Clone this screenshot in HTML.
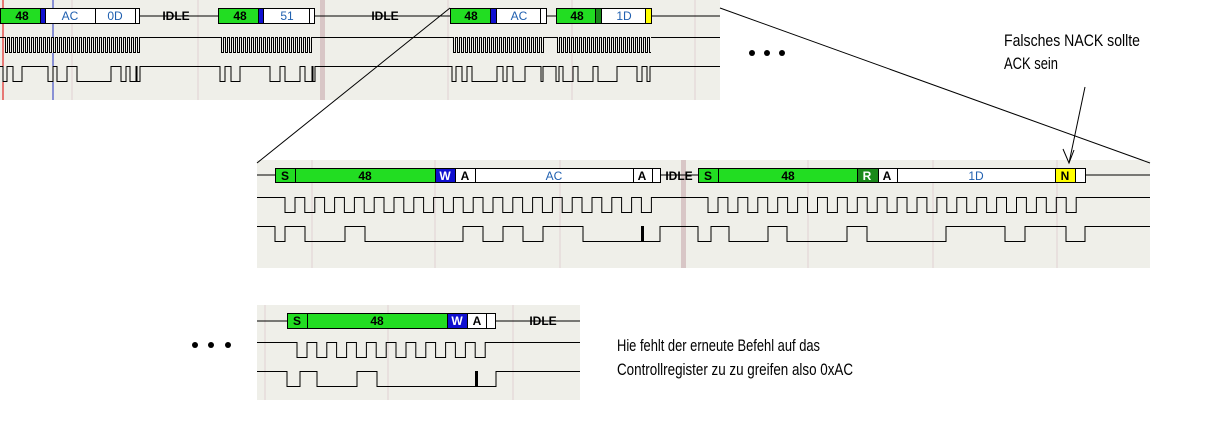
<!DOCTYPE html>
<html><head><meta charset="utf-8"><style>
html,body{margin:0;padding:0;background:#fff;width:1213px;height:446px;overflow:hidden}
svg{display:block}
.b{font-family:"Liberation Sans",sans-serif;font-size:12px;font-weight:bold;text-anchor:middle}
.t{font-family:"Liberation Sans",sans-serif;font-size:17px;fill:#000}
</style></head><body>
<svg width="1213" height="446" viewBox="0 0 1213 446" xmlns="http://www.w3.org/2000/svg">
<defs>
<pattern id="clk" width="4" height="20" patternUnits="userSpaceOnUse" x="0" y="37">
<rect x="0" y="0" width="2" height="1" fill="#000"/>
<rect x="1" y="0" width="1" height="16" fill="#000"/>
<rect x="1" y="15" width="3" height="1" fill="#000"/>
<rect x="3" y="0" width="1" height="16" fill="#000"/>
</pattern>
</defs>
<rect x="0" y="0" width="720" height="100" fill="#efefe9"/>
<rect x="257" y="160" width="893" height="108" fill="#efefe9"/>
<rect x="257" y="305" width="323" height="95" fill="#efefe9"/>
<g stroke="#e0d2d2" stroke-width="1">
<line x1="72" y1="0" x2="72" y2="100"/><line x1="198" y1="0" x2="198" y2="100"/><line x1="448" y1="0" x2="448" y2="100"/><line x1="572" y1="0" x2="572" y2="100"/><line x1="695" y1="0" x2="695" y2="100"/>
<line x1="312" y1="160" x2="312" y2="268"/><line x1="435" y1="160" x2="435" y2="268"/><line x1="560" y1="160" x2="560" y2="268"/><line x1="808" y1="160" x2="808" y2="268"/><line x1="933" y1="160" x2="933" y2="268"/><line x1="1057" y1="160" x2="1057" y2="268"/>
<line x1="265" y1="305" x2="265" y2="400"/><line x1="388" y1="305" x2="388" y2="400"/><line x1="513" y1="305" x2="513" y2="400"/>
</g>
<rect x="320" y="0" width="5" height="100" fill="#d8c6c6"/>
<rect x="681" y="160" width="5" height="108" fill="#d8c6c6"/>
<line x1="3" y1="0" x2="3" y2="100" stroke="#d00" stroke-width="1"/>
<line x1="53" y1="0" x2="53" y2="100" stroke="#2030c0" stroke-width="1"/>

<g stroke="#000" stroke-width="1">
<line x1="0" y1="16" x2="720" y2="16"/>
<rect x="0.5" y="8.5" width="40" height="15" fill="#22dd22"/>
<rect x="40.5" y="8.5" width="5" height="15" fill="#1010d0"/>
<rect x="45.5" y="8.5" width="50" height="15" fill="#fff"/>
<rect x="95.5" y="8.5" width="40" height="15" fill="#fff"/>
<rect x="135.5" y="8.5" width="4" height="15" fill="#fff"/>
<rect x="218.5" y="8.5" width="40" height="15" fill="#22dd22"/>
<rect x="258.5" y="8.5" width="5" height="15" fill="#1010d0"/>
<rect x="263.5" y="8.5" width="46" height="15" fill="#fff"/>
<rect x="309.5" y="8.5" width="5" height="15" fill="#fff"/>
<rect x="450.5" y="8.5" width="40" height="15" fill="#22dd22"/>
<rect x="490.5" y="8.5" width="6" height="15" fill="#1010d0"/>
<rect x="496.5" y="8.5" width="44" height="15" fill="#fff"/>
<rect x="540.5" y="8.5" width="6" height="15" fill="#fff"/>
<rect x="556.5" y="8.5" width="39" height="15" fill="#22dd22"/>
<rect x="595.5" y="8.5" width="6" height="15" fill="#1a8a1a"/>
<rect x="601.5" y="8.5" width="44" height="15" fill="#fff"/>
<rect x="645.5" y="8.5" width="6" height="15" fill="#ffff00"/>
</g>
<g class="b">
<text x="22" y="20">48</text><text x="70" y="20" fill="#2060b0" font-weight="normal">AC</text><text x="115" y="20" fill="#2060b0" font-weight="normal">0D</text>
<text x="176" y="20">IDLE</text>
<text x="240" y="20">48</text><text x="287" y="20" fill="#2060b0" font-weight="normal">51</text>
<text x="385" y="20">IDLE</text>
<text x="471" y="20">48</text><text x="519" y="20" fill="#2060b0" font-weight="normal">AC</text>
<text x="577" y="20">48</text><text x="624" y="20" fill="#2060b0" font-weight="normal">1D</text>
</g>
<path d="M0,37.5 H720" stroke="#000" fill="none"/>
<rect x="4" y="37" width="136" height="16" fill="#efefe9"/>
<rect x="4" y="37" width="136" height="16" fill="url(#clk)"/>
<rect x="220" y="37" width="93" height="16" fill="#efefe9"/>
<rect x="220" y="37" width="93" height="16" fill="url(#clk)"/>
<rect x="452" y="37" width="93" height="16" fill="#efefe9"/>
<rect x="452" y="37" width="93" height="16" fill="url(#clk)"/>
<rect x="556" y="37" width="95" height="16" fill="#efefe9"/>
<rect x="556" y="37" width="95" height="16" fill="url(#clk)"/>
<path fill="none" stroke="#000" d="M0,66.5 H3 V81.5 H7 V66.5 H13 V81.5 H22 V66.5 H48 V81.5 H53 V66.5 H57 V81.5 H67 V66.5 H77 V81.5 H111 V66.5 H121 V81.5 H126 V66.5 H130 V81.5 H136 V66.5 H137 V81.5 H140 V66.5 H220 V81.5 H225 V66.5 H231 V81.5 H240 V66.5 H270 V81.5 H280 V66.5 H285 V81.5 H300 V66.5 H305 V81.5 H312 V66.5 H313 V81.5 H315 V66.5 H452 V81.5 H456 V66.5 H462 V81.5 H467 V66.5 H472 V81.5 H497 V66.5 H503 V81.5 H507 V66.5 H513 V81.5 H525 V66.5 H541 V81.5 H543 V66.5 H556 V81.5 H559 V66.5 H563 V81.5 H573 V66.5 H578 V81.5 H593 V66.5 H598 V81.5 H617 V66.5 H637 V81.5 H642 V66.5 H647 V81.5 H650 V66.5 H720"/>

<g stroke="#000" stroke-width="1">
<line x1="257" y1="175" x2="1150" y2="175"/>
<rect x="275.5" y="168.5" width="20" height="14" fill="#22dd22"/>
<rect x="295.5" y="168.5" width="140" height="14" fill="#22dd22"/>
<rect x="435.5" y="168.5" width="20" height="14" fill="#1010d0"/>
<rect x="455.5" y="168.5" width="20" height="14" fill="#fff"/>
<rect x="475.5" y="168.5" width="158" height="14" fill="#fff"/>
<rect x="633.5" y="168.5" width="19" height="14" fill="#fff"/>
<rect x="652.5" y="168.5" width="8" height="14" fill="#fff"/>
<rect x="698.5" y="168.5" width="20" height="14" fill="#22dd22"/>
<rect x="718.5" y="168.5" width="139" height="14" fill="#22dd22"/>
<rect x="857.5" y="168.5" width="21" height="14" fill="#1a8a1a"/>
<rect x="878.5" y="168.5" width="19" height="14" fill="#fff"/>
<rect x="897.5" y="168.5" width="158" height="14" fill="#fff"/>
<rect x="1055.5" y="168.5" width="20" height="14" fill="#ffff00"/>
<rect x="1075.5" y="168.5" width="10" height="14" fill="#fff"/>
</g>
<g class="b">
<text x="285" y="180">S</text><text x="365" y="180">48</text><text x="445" y="180" fill="#fff">W</text><text x="465" y="180">A</text>
<text x="554" y="180" fill="#2060b0" font-weight="normal">AC</text><text x="642" y="180">A</text><text x="679" y="180">IDLE</text>
<text x="708" y="180">S</text><text x="788" y="180">48</text><text x="867" y="180" fill="#fff">R</text><text x="887" y="180">A</text>
<text x="976" y="180" fill="#2060b0" font-weight="normal">1D</text><text x="1065" y="180">N</text>
</g>
<path fill="none" stroke="#000" d="M257,197.5 H285 v15h10v-15h9.8 v15h10v-15h9.8 v15h10v-15h9.8 v15h10v-15h9.8 v15h10v-15h9.8 v15h10v-15h9.8 v15h10v-15h9.8 v15h10v-15h9.8 v15h10v-15h9.8 v15h10v-15h9.8 v15h10v-15h9.8 v15h10v-15h9.8 v15h10v-15h9.8 v15h10v-15h9.8 v15h10v-15h9.8 v15h10v-15h9.8 v15h10v-15h9.8 v15h10v-15h9.8 v15h10v-15h9.8 H708 v15h10v-15h9.9 v15h10v-15h9.9 v15h10v-15h9.9 v15h10v-15h9.9 v15h10v-15h9.9 v15h10v-15h9.9 v15h10v-15h9.9 v15h10v-15h9.9 v15h10v-15h9.9 v15h10v-15h9.9 v15h10v-15h9.9 v15h10v-15h9.9 v15h10v-15h9.9 v15h10v-15h9.9 v15h10v-15h9.9 v15h10v-15h9.9 v15h10v-15h9.9 v15h10v-15h9.9 v15h10v-15h9.9 H1150"/>
<path fill="none" stroke="#000" d="M257,226.5 H275 V241.5 H285 V226.5 H305 V241.5 H345 V226.5 H365 V241.5 H463 V226.5 H483 V241.5 H503 V226.5 H523 V241.5 H543 V226.5 H583 V241.5 H660 V226.5 H698 V241.5 H711 V226.5 H729 V241.5 H768 V226.5 H787 V241.5 H847 V226.5 H867 V241.5 H946 V226.5 H1005 V241.5 H1025 V226.5 H1066 V241.5 H1085 V226.5 H1150"/>
<rect x="641" y="226" width="3" height="16" fill="#000"/>

<g stroke="#000" stroke-width="1">
<line x1="257" y1="321" x2="580" y2="321"/>
<rect x="287.5" y="313.5" width="20" height="15" fill="#22dd22"/>
<rect x="307.5" y="313.5" width="140" height="15" fill="#22dd22"/>
<rect x="447.5" y="313.5" width="20" height="15" fill="#1010d0"/>
<rect x="467.5" y="313.5" width="19" height="15" fill="#fff"/>
<rect x="486.5" y="313.5" width="9" height="15" fill="#fff"/>
</g>
<g class="b">
<text x="297" y="325">S</text><text x="377" y="325">48</text><text x="457" y="325" fill="#fff">W</text><text x="477" y="325">A</text><text x="543" y="325">IDLE</text>
</g>
<path fill="none" stroke="#000" d="M257,342.5 H297 v15h10v-15h9.8 v15h10v-15h9.8 v15h10v-15h9.8 v15h10v-15h9.8 v15h10v-15h9.8 v15h10v-15h9.8 v15h10v-15h9.8 v15h10v-15h9.8 v15h10v-15h9.8 v15h10v-15h9.8 H580"/>
<path fill="none" stroke="#000" d="M257,371.5 H287 V386.5 H300 V371.5 H317 V386.5 H357 V371.5 H377 V386.5 H496 V371.5 H580"/>
<rect x="475" y="371" width="3" height="16" fill="#000"/>

<g stroke="#000" stroke-width="1" fill="none">
<line x1="450" y1="8" x2="257" y2="163"/>
<line x1="720" y1="8" x2="1150" y2="163"/>
<line x1="1085" y1="87" x2="1069" y2="163"/>
<path d="M1063,149 L1069,163 L1074,150"/>
</g>
<g fill="#000">
<circle cx="752" cy="53" r="3"/><circle cx="767" cy="53" r="3"/><circle cx="782" cy="53" r="3"/>
<circle cx="195" cy="345" r="3"/><circle cx="211" cy="345" r="3"/><circle cx="228" cy="345" r="3"/>
</g>
<text class="t" x="1004" y="46" textLength="136" lengthAdjust="spacingAndGlyphs">Falsches NACK sollte</text>
<text class="t" x="1004" y="69" textLength="54" lengthAdjust="spacingAndGlyphs">ACK sein</text>
<text class="t" x="617" y="351" textLength="203" lengthAdjust="spacingAndGlyphs">Hie fehlt der erneute Befehl auf das</text>
<text class="t" x="617" y="375" textLength="236" lengthAdjust="spacingAndGlyphs">Controllregister zu zu greifen also 0xAC</text>
</svg>
</body></html>
